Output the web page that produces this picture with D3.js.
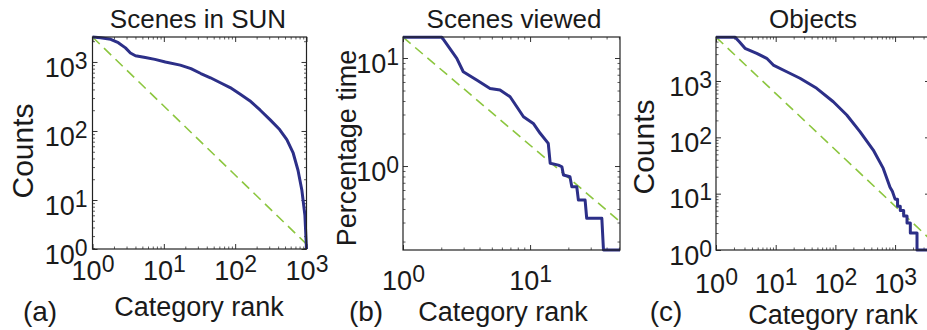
<!DOCTYPE html>
<html>
<head>
<meta charset="utf-8">
<script src="https://cdn.jsdelivr.net/npm/d3@7"></script>
<style>
  body { margin: 0; background: #fff; }
  svg text { font-family: 'Liberation Sans', Arial, sans-serif; fill: #1a1a1a; }
</style>
</head>
<body>
<svg id="chart" width="927" height="330"></svg>
<script>
// (a) Scenes in SUN: counts per category rank
var sunRank  = [1, 1.3, 1.8, 2.3, 2.9, 3.4, 4.0, 5.5, 7.5, 10.5, 17, 24, 33, 45, 62, 85, 118, 160, 225, 310, 420, 530, 650, 760, 860, 950, 1000];
var sunCount = [2300, 2250, 2130, 1900, 1600, 1350, 1230, 1160, 1090, 1000, 900, 800, 680, 590, 500, 425, 340, 275, 200, 145, 105, 75, 48, 27, 14, 6, 1];
var sunZipfRank  = [1, 1000];
var sunZipfCount = [2300, 2.3];

// (b) Scenes viewed: percentage of time per category rank
var viewRank = [1, 2.02, 2.65, 2.98, 3.8, 4.84, 5.8, 6.96, 7.86, 8.87, 10.6, 12, 13.9, 14.4, 16.7, 17.8, 18.3, 20.6, 21.3, 23.3, 24, 27.1, 27.9, 36.7, 37.8, 51];
var viewPct  = [15.6, 15.6, 9.94, 7.46, 6.26, 5.23, 5.06, 4.38, 3.54, 2.86, 2.48, 2.01, 1.62, 1.06, 1.02, 0.985, 0.826, 0.797, 0.643, 0.643, 0.484, 0.484, 0.328, 0.328, 0.1, 0.1];
var viewZipfRank = [1, 51];
var viewZipfPct  = [15.6, 0.306];

// (c) Objects: counts per category rank
var objRank  = [1, 2.08, 2.46, 3.06, 4.81, 7.06, 9.12, 15.3, 25.5, 48.6, 92.3, 155, 258, 431, 634, 822, 900, 1000, 1100, 1100, 1222, 1222, 1393, 1393, 1585, 1585, 1800, 1800, 2330, 2330, 3900];
var objCount = [6000, 6000, 4990, 3810, 3100, 2530, 1920, 1460, 1120, 741, 428, 249, 126, 59.4, 28.1, 13, 11, 8, 8, 6, 6, 5, 5, 4, 4, 3, 3, 2, 2, 1, 1];
var objZipfRank  = [1, 3845];
var objZipfCount = [6000, 1.56];

// tick values and their exponent labels
var sunXTicks = [1, 10, 100, 1000],  sunXLabels = ['0', '1', '2', '3'];
var sunYTicks = [1.95, 10, 100, 1000], sunYLabels = ['0', '1', '2', '3'];
var viewXTicks = [1, 10], viewXLabels = ['0', '1'];
var viewYTicks = [1, 10], viewYLabels = ['0', '1'];
var objXTicks = [1, 10, 100, 1000], objXLabels = ['0', '1', '2', '3'];
var objYTicks = [1, 10, 100, 1000], objYLabels = ['0', '1', '2', '3'];

var svg = d3.select('#chart');

var BLUE = '#2c2f88';
var GREEN = '#8cc63f';
var TICK_FS = 27, SUP_FS = 23;

function isDecade(v) {
  var l = Math.log10(v);
  return Math.abs(l - Math.round(l)) < 1e-6;
}

function expLabels(axisG, labels) {
  axisG.selectAll('.tick text').each(function(d, i) {
    var t = d3.select(this).text(null);
    t.append('tspan').text('10');
    t.append('tspan')
     .attr('dy', -8)
     .attr('font-size', SUP_FS)
     .text(labels[i]);
  });
}

function drawPanel(p) {
  var w = p.right - p.left,
      h = p.bottom - p.top;

  var g = svg.append('g')
             .attr('transform', 'translate(' + p.left + ',' + p.top + ')');

  var x = d3.scaleLog().domain(p.xDomain).range([0, w]);
  var y = d3.scaleLog().domain(p.yDomain).range([h, 0]).clamp(true);

  var xMinor = x.ticks().filter(function(v) { return !isDecade(v); });
  var yMinor = y.ticks().filter(function(v) { return !isDecade(v); });

  // clip for lines
  g.append('clipPath')
   .attr('id', 'clip-' + p.id)
   .append('rect')
   .attr('x', -2).attr('y', -2)
   .attr('width', w + 4).attr('height', h + 4);

  // minor ticks on all four sides
  [[d3.axisBottom(x).tickValues(xMinor), 'translate(0,' + h + ')'],
   [d3.axisTop(x).tickValues(xMinor), null],
   [d3.axisLeft(y).tickValues(yMinor), null],
   [d3.axisRight(y).tickValues(yMinor), 'translate(' + w + ',0)']].forEach(function(a) {
    var ag = g.append('g').call(a[0].tickSize(-2.5).tickFormat(''));
    if (a[1]) ag.attr('transform', a[1]);
    ag.select('.domain').remove();
    ag.selectAll('line').attr('stroke', '#333').attr('stroke-width', 0.8);
  });

  // major ticks on top / right
  var topAx = g.append('g').call(d3.axisTop(x).tickValues(p.xTicks).tickSize(-5).tickFormat(''));
  var rightAx = g.append('g').attr('transform', 'translate(' + w + ',0)')
                 .call(d3.axisRight(y).tickValues(p.yTicks).tickSize(-5).tickFormat(''));
  [topAx, rightAx].forEach(function(a) {
    a.select('.domain').remove();
    a.selectAll('line').attr('stroke', '#333');
  });

  // bottom axis with labels
  var xAx = g.append('g')
             .attr('transform', 'translate(0,' + h + ')')
             .call(d3.axisBottom(x).tickValues(p.xTicks).tickSize(-5));
  xAx.select('.domain').remove();
  xAx.selectAll('line').attr('stroke', '#333');
  xAx.selectAll('.tick text')
     .attr('y', p.xLabelOffset)
     .attr('dy', 0)
     .attr('font-size', TICK_FS)
     .attr('font-family', 'Liberation Sans, Arial, sans-serif');
  expLabels(xAx, p.xLabels);

  // left axis with labels
  var yAx = g.append('g')
             .call(d3.axisLeft(y).tickValues(p.yTicks).tickSize(-5).tickPadding(p.yPad));
  yAx.select('.domain').remove();
  yAx.selectAll('line').attr('stroke', '#333');
  yAx.selectAll('.tick text')
     .attr('dy', '0.52em')
     .attr('font-size', TICK_FS)
     .attr('font-family', 'Liberation Sans, Arial, sans-serif');
  expLabels(yAx, p.yLabels);

  // reference power-law line
  var line = d3.line()
               .x(function(d) { return x(d[0]); })
               .y(function(d) { return y(d[1]); });

  g.append('path')
   .datum(d3.zip(p.zipfX, p.zipfY))
   .attr('fill', 'none')
   .attr('stroke', GREEN)
   .attr('stroke-width', 1.6)
   .attr('stroke-dasharray', '10,6')
   .attr('clip-path', 'url(#clip-' + p.id + ')')
   .attr('d', line);

  // data line
  g.append('path')
   .datum(d3.zip(p.dataX, p.dataY))
   .attr('fill', 'none')
   .attr('stroke', BLUE)
   .attr('stroke-width', 3)
   .attr('stroke-linejoin', 'round')
   .attr('clip-path', 'url(#clip-' + p.id + ')')
   .attr('d', line);

  // box
  g.append('rect')
   .attr('width', w)
   .attr('height', h)
   .attr('fill', 'none')
   .attr('stroke', '#222')
   .attr('stroke-width', 1.2);

  // title
  svg.append('text')
     .attr('x', p.titleX).attr('y', 28)
     .attr('text-anchor', 'middle')
     .attr('font-size', 26)
     .text(p.title);

  // x label
  svg.append('text')
     .attr('x', p.xTitleX).attr('y', p.xTitleY)
     .attr('text-anchor', 'middle')
     .attr('font-size', 27)
     .text('Category rank');

  // y label
  svg.append('text')
     .attr('transform', 'translate(' + p.yTitleX + ',' + p.yTitleY + ') rotate(-90)')
     .attr('text-anchor', 'middle')
     .attr('font-size', p.yTitleFs)
     .text(p.yTitle);

  // panel letter
  svg.append('text')
     .attr('x', p.letterX).attr('y', 321)
     .attr('text-anchor', 'middle')
     .attr('font-size', 28)
     .text(p.letter);
}

drawPanel({
  id: 'a', left: 92.5, top: 37, right: 306.5, bottom: 249,
  xDomain: [1, 1000], yDomain: [1.95, 2300],
  xTicks: sunXTicks, xLabels: sunXLabels, yTicks: sunYTicks, yLabels: sunYLabels,
  dataX: sunRank, dataY: sunCount, zipfX: sunZipfRank, zipfY: sunZipfCount,
  xLabelOffset: 31, yPad: 5,
  title: 'Scenes in SUN', titleX: 198,
  xTitleX: 199, xTitleY: 316,
  yTitle: 'Counts', yTitleFs: 30, yTitleX: 33, yTitleY: 151,
  letter: '(a)', letterX: 40
});

drawPanel({
  id: 'b', left: 403, top: 37, right: 620, bottom: 250,
  xDomain: [1, 51], yDomain: [0.167, 15.65],
  xTicks: viewXTicks, xLabels: viewXLabels, yTicks: viewYTicks, yLabels: viewYLabels,
  dataX: viewRank, dataY: viewPct, zipfX: viewZipfRank, zipfY: viewZipfPct,
  xLabelOffset: 40, yPad: 4,
  title: 'Scenes viewed', titleX: 514,
  xTitleX: 503, xTitleY: 321,
  yTitle: 'Percentage time', yTitleFs: 27, yTitleX: 356, yTitleY: 148,
  letter: '(b)', letterX: 366
});

drawPanel({
  id: 'c', left: 716, top: 37, right: 930, bottom: 250,
  xDomain: [1, 3845], yDomain: [1, 6040],
  xTicks: objXTicks, xLabels: objXLabels, yTicks: objYTicks, yLabels: objYLabels,
  dataX: objRank, dataY: objCount, zipfX: objZipfRank, zipfY: objZipfCount,
  xLabelOffset: 43, yPad: 4,
  title: 'Objects', titleX: 813,
  xTitleX: 833, xTitleY: 324,
  yTitle: 'Counts', yTitleFs: 30, yTitleX: 654, yTitleY: 147,
  letter: '(c)', letterX: 666
});
</script>
</body>
</html>
